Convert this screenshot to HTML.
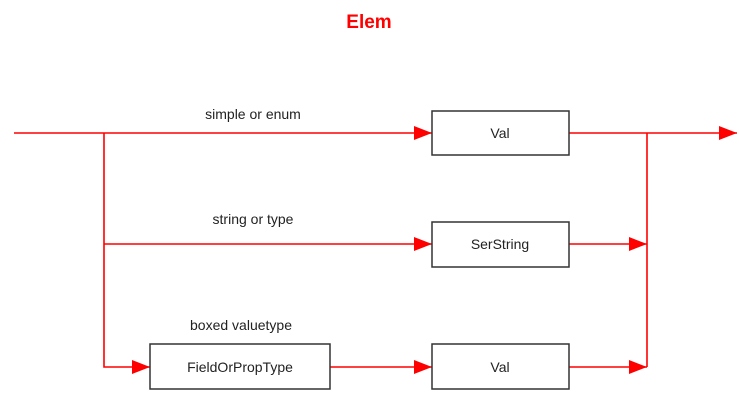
<!DOCTYPE html>
<html><head><style>body{margin:0;background:#fff}</style></head><body>
<svg width="739" height="400" xmlns="http://www.w3.org/2000/svg" font-family="Liberation Sans, Arial, sans-serif">
<defs><marker id="a" markerWidth="18" markerHeight="14" refX="18" refY="7" orient="auto" markerUnits="userSpaceOnUse"><path d="M0,0 L18,7 L0,14 Z" fill="#f00"/></marker></defs>
<text x="369" y="28" text-anchor="middle" fill="#f00" font-weight="bold" font-size="19">Elem</text>
<g stroke="#f00" stroke-width="1.6" fill="none">
<line x1="14" y1="133" x2="432" y2="133" marker-end="url(#a)"/>
<line x1="569" y1="133" x2="737" y2="133" marker-end="url(#a)"/>
<polyline points="104,133 104,367 150,367" marker-end="url(#a)"/>
<line x1="104" y1="244" x2="432" y2="244" marker-end="url(#a)"/>
<line x1="569" y1="244" x2="647" y2="244" marker-end="url(#a)"/>
<line x1="330" y1="367" x2="432" y2="367" marker-end="url(#a)"/>
<line x1="569" y1="367" x2="647" y2="367" marker-end="url(#a)"/>
<line x1="647" y1="133" x2="647" y2="367"/>
</g>
<g stroke="#333" stroke-width="1.5" fill="#fff">
<rect x="432" y="111" width="137" height="44"/>
<rect x="432" y="222" width="137" height="45"/>
<rect x="150" y="344" width="180" height="45"/>
<rect x="432" y="344" width="137" height="45"/>
</g>
<g font-size="14" fill="#222" text-anchor="middle">
<text x="500" y="138">Val</text>
<text x="500" y="249">SerString</text>
<text x="240" y="372">FieldOrPropType</text>
<text x="500" y="372">Val</text>
<text x="253" y="119">simple or enum</text>
<text x="253" y="224">string or type</text>
<text x="241" y="330">boxed valuetype</text>
</g>
</svg>
</body></html>
